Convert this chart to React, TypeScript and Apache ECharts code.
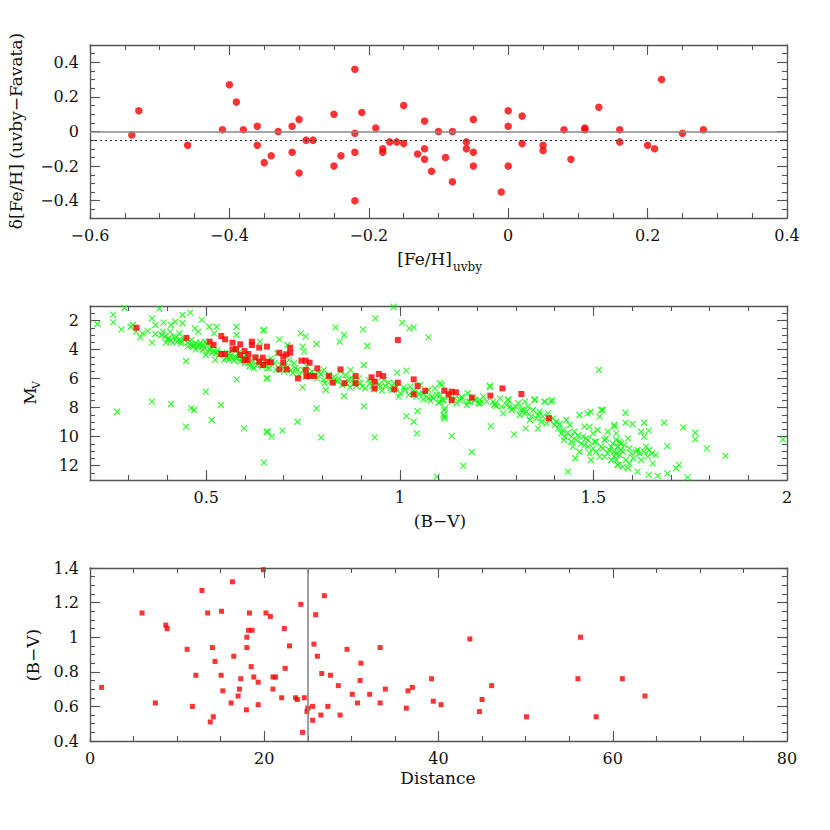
import React, { useEffect, useRef } from "react";
import * as echarts from "echarts";

// ---------- Panel 1: delta [Fe/H] vs [Fe/H]uvby ----------
const topFeH = [
  -0.54, -0.53, -0.46, -0.41, -0.40, -0.39, -0.38, -0.36, -0.36, -0.35,
  -0.34, -0.33, -0.31, -0.31, -0.30, -0.30, -0.29, -0.28, -0.25, -0.25,
  -0.24, -0.22, -0.22, -0.22, -0.22, -0.21, -0.19, -0.18, -0.18, -0.17,
  -0.16, -0.15, -0.15, -0.13, -0.12, -0.12, -0.12, -0.11, -0.10, -0.09,
  -0.08, -0.08, -0.06, -0.06, -0.05, -0.05, -0.05, -0.01, 0.0, 0.0,
  0.0, 0.02, 0.02, 0.05, 0.05, 0.08, 0.09, 0.11, 0.11, 0.13,
  0.16, 0.16, 0.20, 0.21, 0.22, 0.25, 0.28,
];
const topDelta = [
  -0.02, 0.12, -0.08, 0.01, 0.27, 0.17, 0.01, 0.03, -0.08, -0.18,
  -0.14, 0.0, 0.03, -0.12, 0.07, -0.24, -0.05, -0.05, 0.10, -0.20,
  -0.14, 0.36, -0.01, -0.12, -0.40, 0.11, 0.02, -0.10, -0.12, -0.06,
  -0.06, 0.15, -0.07, -0.13, 0.06, -0.10, -0.16, -0.23, 0.0, -0.15,
  0.0, -0.29, -0.06, -0.10, 0.07, -0.12, -0.20, -0.35, 0.12, 0.03,
  -0.20, 0.09, -0.07, -0.08, -0.11, 0.01, -0.16, 0.02, 0.01, 0.14,
  0.01, -0.06, -0.08, -0.10, 0.30, -0.01, 0.01,
];
const topZeroLine = 0;
const topMeanOffset = -0.05;

// ---------- Panel 2: HR diagram ----------
const redBV = [
  0.32, 0.449, 0.509, 0.519, 0.539, 0.549, 0.539, 0.549, 0.568, 0.577,
  0.568, 0.588, 0.588, 0.599, 0.609, 0.599, 0.607, 0.618, 0.618, 0.627,
  0.637, 0.646, 0.637, 0.647, 0.657, 0.667, 0.658, 0.689, 0.689, 0.699,
  0.699, 0.708, 0.707, 0.717, 0.717, 0.737, 0.746, 0.757, 0.767, 0.757,
  0.759, 0.767, 0.779, 0.787, 0.817, 0.827, 0.847, 0.857, 0.886, 0.886,
  0.927, 0.935, 0.935, 0.946, 0.957, 0.986, 0.995, 0.995, 1.036, 1.036,
  1.046, 1.066, 1.115, 1.126, 1.134, 1.145, 1.134, 1.186, 1.234, 1.265,
  1.314, 1.385,
];
const redMV = [
  2.5, 3.2, 3.46, 3.69, 3.07, 3.3, 4.31, 4.31, 3.53, 3.97,
  3.99, 3.64, 4.38, 4.1, 4.31, 4.72, 4.72, 3.46, 3.69, 4.54,
  3.87, 4.56, 4.84, 5.07, 3.8, 4.89, 4.84, 4.22, 5.37, 4.49,
  4.91, 5.37, 4.33, 3.87, 4.22, 5.99, 4.77, 4.77, 4.91, 5.41,
  5.83, 5.83, 5.83, 5.3, 5.83, 6.29, 5.37, 6.33, 5.83, 6.33,
  5.92, 6.22, 6.68, 5.69, 5.83, 6.75, 6.29, 3.34, 6.06, 7.09,
  6.52, 6.86, 6.84, 7.09, 6.91, 6.95, 7.48, 7.32, 7.18, 6.68,
  7.07, 8.74,
];
const greenStars: [number, number][] = [
  [0.219, 2.24], [0.26, 1.6], [0.26, 2.13], [0.289, 1.14], [0.281, 2.61], [0.305, 2.43], [0.311, 2.31],
  [0.319, 2.77], [0.33, 3.16], [0.336, 2.89], [0.349, 2.72], [0.36, 1.85], [0.36, 3.53], [0.369, 2.31],
  [0.369, 2.93], [0.379, 1.18], [0.388, 2.77], [0.39, 2.15], [0.394, 3.11], [0.401, 3.3], [0.407, 2.77],
  [0.409, 2.31], [0.413, 3.53], [0.42, 2.08], [0.422, 3.16], [0.431, 2.89], [0.435, 3.39], [0.439, 1.62],
  [0.439, 2.19], [0.448, 4.79], [0.459, 1.46], [0.452, 3.53], [0.462, 3.34], [0.467, 3.69], [0.471, 2.54],
  [0.473, 3.99], [0.48, 2.77], [0.482, 3.69], [0.489, 1.96], [0.491, 4.03], [0.497, 3.46], [0.499, 4.38],
  [0.499, 6.91], [0.508, 2.43], [0.51, 3.99], [0.514, 8.86], [0.516, 4.22], [0.521, 2.89], [0.523, 4.72],
  [0.527, 2.43], [0.529, 4.03], [0.538, 7.83], [0.546, 4.72], [0.555, 4.49], [0.562, 4.26], [0.568, 4.61],
  [0.578, 2.43], [0.578, 3.0], [0.579, 6.06], [0.581, 4.03], [0.585, 4.72], [0.598, 9.44], [0.602, 4.38],
  [0.611, 4.91], [0.619, 5.18], [0.628, 4.61], [0.639, 3.46], [0.641, 5.07], [0.647, 2.7], [0.649, 11.8],
  [0.656, 5.99], [0.656, 9.67], [0.36, 7.6], [0.27, 8.29], [0.409, 7.76], [0.461, 8.06], [0.469, 8.17],
  [0.448, 9.32],
  [0.461, 3.69], [0.467, 3.8], [0.473, 3.57], [0.478, 3.85], [0.485, 3.53], [0.491, 3.76], [0.495, 3.92],
  [0.502, 3.62], [0.505, 4.15], [0.512, 3.8], [0.519, 4.08], [0.525, 4.26], [0.533, 4.38], [0.542, 4.22],
  [0.551, 4.61], [0.559, 4.68], [0.563, 4.45], [0.572, 4.77], [0.576, 4.54], [0.582, 4.26], [0.589, 4.84],
  [0.593, 4.61], [0.599, 4.95], [0.606, 4.72], [0.613, 5.14], [0.619, 4.84], [0.623, 5.3], [0.632, 5.07],
  [0.636, 4.84], [0.645, 5.18], [0.653, 4.95], [0.658, 5.3], [0.402, 3.23], [0.409, 3.39], [0.416, 3.11],
  [0.425, 3.46], [0.431, 3.3], [0.385, 3.0], [0.396, 3.53], [0.435, 3.57], [0.443, 3.34], [0.452, 3.8],
  [0.65, 2.65], [0.659, 9.67], [0.669, 10.01], [0.659, 5.99], [0.667, 4.61], [0.676, 4.95], [0.684, 4.26],
  [0.689, 3.3], [0.697, 9.6], [0.703, 5.18], [0.71, 3.69], [0.714, 4.72], [0.719, 5.41], [0.727, 4.95],
  [0.736, 8.98], [0.736, 5.41], [0.744, 2.89], [0.749, 3.8], [0.753, 4.15], [0.757, 3.11], [0.749, 6.61],
  [0.761, 5.18], [0.774, 5.53], [0.785, 3.62], [0.785, 8.06], [0.791, 5.6], [0.797, 10.06], [0.804, 5.41],
  [0.806, 6.33], [0.809, 6.79], [0.817, 5.76], [0.83, 5.87], [0.834, 2.47], [0.839, 6.22], [0.845, 3.46],
  [0.847, 5.53], [0.856, 3.0], [0.856, 7.21], [0.86, 5.76], [0.864, 6.1], [0.873, 5.41], [0.875, 5.92],
  [0.881, 6.33], [0.894, 5.99], [0.903, 6.56], [0.905, 2.61], [0.907, 5.07], [0.907, 7.9], [0.916, 3.76],
  [0.92, 6.1], [0.929, 6.52], [0.935, 10.06], [0.937, 1.85], [0.941, 6.22], [0.95, 6.56], [0.959, 6.1],
  [0.971, 6.29], [0.976, 6.68], [0.984, 1.05], [0.986, 6.33], [0.993, 5.6], [0.997, 7.25], [1.006, 2.15],
  [1.01, 6.61], [1.017, 5.46], [1.017, 8.59], [1.025, 2.54], [1.027, 6.56], [1.036, 2.47], [1.036, 8.98],
  [1.04, 6.91], [1.044, 9.78], [1.046, 8.24], [1.053, 6.45], [1.061, 7.02], [1.074, 3.16], [1.074, 7.37],
  [1.083, 7.25], [1.096, 7.14], [1.096, 12.77], [1.104, 7.6], [1.113, 8.52],
  [0.654, 5.07], [0.663, 5.3], [0.671, 4.84], [0.68, 5.41], [0.693, 5.07], [0.701, 5.53], [0.71, 5.18],
  [0.723, 5.64], [0.731, 5.3], [0.74, 5.76], [0.751, 5.41], [0.757, 5.87], [0.768, 5.64], [0.779, 5.76],
  [0.787, 5.99], [0.796, 5.69], [0.803, 6.1], [0.813, 5.87], [0.821, 6.22], [0.832, 6.1], [0.843, 5.99],
  [0.851, 6.45], [0.863, 6.33], [0.871, 6.61], [0.88, 6.1], [0.888, 6.52], [0.899, 6.33], [0.911, 6.68],
  [0.923, 6.33], [0.933, 6.75], [0.946, 6.45], [0.954, 6.84], [0.963, 6.52], [0.98, 6.79], [0.991, 6.61],
  [1.001, 7.02], [1.014, 6.79], [1.023, 7.14], [1.034, 6.91], [1.043, 7.25], [1.051, 7.07], [1.06, 7.44],
  [1.07, 7.25], [1.079, 7.53], [1.087, 7.37], [1.1, 7.67], [1.109, 7.48],
  [1.104, 6.33], [1.104, 7.14], [1.113, 7.48], [1.115, 8.63], [1.117, 8.06], [1.134, 9.96], [1.143, 7.37],
  [1.156, 7.48], [1.164, 12.03], [1.175, 7.02], [1.181, 7.6], [1.186, 11.07], [1.194, 7.48], [1.203, 7.71],
  [1.216, 7.25], [1.233, 6.52], [1.235, 9.28], [1.241, 7.6], [1.25, 7.9], [1.259, 7.37], [1.267, 8.4],
  [1.28, 7.44], [1.284, 7.94], [1.293, 8.06], [1.295, 9.85], [1.306, 7.71], [1.314, 8.17], [1.323, 8.4],
  [1.325, 9.44], [1.331, 7.94], [1.34, 8.59], [1.349, 7.44], [1.353, 8.75], [1.357, 9.44], [1.361, 8.29],
  [1.37, 8.63], [1.374, 7.6], [1.379, 9.09], [1.391, 7.6], [1.396, 8.75], [1.404, 8.98], [1.413, 9.14],
  [1.421, 9.55], [1.426, 10.01], [1.43, 8.86], [1.434, 12.42], [1.439, 9.21], [1.443, 10.36], [1.451, 9.67],
  [1.453, 11.5], [1.46, 9.9], [1.464, 8.52], [1.469, 10.47], [1.477, 9.32], [1.481, 10.13], [1.486, 10.7],
  [1.493, 8.29], [1.494, 11.62], [1.499, 9.78], [1.503, 10.36], [1.507, 11.05], [1.511, 9.55], [1.514, 5.41],
  [1.516, 8.63], [1.52, 10.7], [1.524, 8.17], [1.529, 11.39], [1.533, 10.13], [1.537, 9.67], [1.541, 10.93],
  [1.546, 11.62], [1.55, 10.47], [1.554, 9.21], [1.559, 11.16], [1.563, 11.96],
  [1.126, 7.25], [1.134, 7.6], [1.147, 7.71], [1.16, 7.37], [1.173, 7.83], [1.19, 7.3], [1.207, 7.48],
  [1.224, 7.6], [1.246, 7.76], [1.263, 7.94], [1.276, 7.83], [1.289, 8.17], [1.301, 7.99], [1.31, 8.52],
  [1.319, 8.13], [1.327, 8.29], [1.336, 8.86], [1.344, 8.17], [1.357, 8.52], [1.366, 8.98], [1.383, 8.4],
  [1.387, 8.86], [1.4, 9.21], [1.409, 9.44], [1.417, 9.78], [1.424, 10.24], [1.434, 9.74], [1.443, 10.01],
  [1.447, 10.7], [1.456, 10.24], [1.464, 11.05], [1.473, 10.01], [1.477, 10.59], [1.486, 10.24], [1.49, 11.16],
  [1.499, 10.82], [1.507, 10.36], [1.516, 11.39], [1.524, 10.82], [1.529, 10.24], [1.537, 11.16], [1.546, 10.7],
  [1.554, 11.05], [1.563, 10.7],
  [1.554, 9.32], [1.559, 10.24], [1.563, 10.7], [1.554, 11.39], [1.563, 11.96], [1.571, 10.47], [1.576, 11.05],
  [1.583, 8.36], [1.583, 9.05], [1.584, 11.62], [1.589, 10.13], [1.593, 11.85], [1.589, 12.19], [1.601, 9.14],
  [1.603, 11.5], [1.614, 10.93], [1.614, 12.42], [1.623, 9.67], [1.623, 11.62], [1.631, 9.05], [1.631, 10.01],
  [1.636, 10.7], [1.64, 11.39], [1.643, 9.6], [1.643, 12.65], [1.653, 11.85], [1.661, 11.27], [1.666, 12.72],
  [1.683, 9.05], [1.691, 10.66], [1.691, 12.54], [1.713, 12.19], [1.721, 11.96], [1.732, 9.37], [1.743, 12.82],
  [1.763, 9.74], [1.763, 10.2], [1.793, 10.82], [1.841, 11.34], [1.989, 10.2],
  [1.559, 9.78], [1.567, 10.36], [1.571, 10.93], [1.58, 10.59], [1.567, 11.27], [1.593, 10.82], [1.597, 11.16],
  [1.61, 11.05], [1.619, 11.16], [1.631, 11.05], [1.644, 10.93], [1.651, 11.16], [1.559, 11.62], [1.576, 12.08],
  [1.074, 6.79], [1.091, 6.68], [1.108, 6.45], [1.115, 8.17], [1.115, 8.75], [1.16, 7.25], [1.177, 7.6],
  [1.194, 7.48], [1.207, 7.71], [1.233, 6.56], [1.245, 7.83], [1.28, 7.48], [1.323, 7.6], [1.348, 7.48],
  [1.374, 7.6], [1.393, 7.48], [1.485, 8.4], [1.49, 9.32], [1.52, 8.17],
];

// ---------- Panel 3: (B-V) vs Distance ----------
const distance = [
  1.33, 5.97, 7.5, 8.7, 8.85, 11.15, 11.75, 12.15, 12.85, 13.5,
  13.8, 14.05, 14.15, 14.35, 15.05, 15.1, 15.25, 16.2, 16.35, 16.5,
  17.0, 17.15, 17.3, 17.95, 18.0, 18.0, 18.2, 18.3, 18.6, 18.5,
  18.8, 19.3, 19.3, 19.9, 20.2, 20.7, 21.0, 21.0, 21.3, 22.0,
  22.3, 22.4, 22.9, 23.6, 23.8, 24.2, 24.4, 24.6, 24.9, 25.0,
  25.55, 25.55, 25.7, 25.9, 26.1, 26.5, 26.6, 26.9, 27.3, 27.6,
  28.5, 28.7, 29.5, 30.1, 30.7, 31.0, 31.1, 32.1, 33.3, 33.3,
  33.9, 36.3, 36.5, 37.0, 39.2, 39.4, 40.3, 43.6, 44.7, 45.0,
  46.1, 50.1, 56.0, 56.3, 58.1, 61.1, 63.7,
];
const colourBV = [
  0.71, 1.14, 0.62, 1.07, 1.05, 0.93, 0.60, 0.78, 1.27, 1.14,
  0.51, 0.94, 0.54, 0.86, 0.78, 1.15, 0.69, 0.62, 1.32, 0.89,
  0.66, 0.70, 0.76, 0.58, 0.94, 1.00, 1.04, 1.14, 1.04, 0.83,
  0.77, 0.74, 0.61, 1.39, 1.14, 1.12, 0.77, 0.70, 0.77, 0.65,
  1.05, 0.82, 0.95, 0.65, 0.64, 1.19, 0.45, 0.65, 0.57, 0.59,
  0.60, 0.52, 0.96, 1.13, 0.89, 0.55, 0.79, 1.24, 0.60, 0.78,
  0.72, 0.55, 0.93, 0.67, 0.62, 0.75, 0.85, 0.67, 0.94, 0.62,
  0.70, 0.59, 0.69, 0.71, 0.76, 0.63, 0.61, 0.99, 0.57, 0.64,
  0.72, 0.54, 0.76, 1.00, 0.54, 0.76, 0.66,
];
const distanceCut = 25;

// ---------- ticks ----------
const topXTicks = [-0.6, -0.4, -0.2, 0, 0.2, 0.4];
const topYTicks = [-0.4, -0.2, 0, 0.2, 0.4];
const midXTicks = [0.5, 1, 1.5, 2];
const midYTicks = [2, 4, 6, 8, 10, 12];
const botXTicks = [0, 20, 40, 60, 80];
const botYTicks = [0.4, 0.6, 0.8, 1, 1.2, 1.4];

const FONT = '"DejaVu Serif", "Liberation Serif", serif';
const AX = "#555";

const fmt = (v: number) => String(Math.round(v * 1000) / 1000).replace("-", "\u2212");

function steps(min: number, max: number, step: number) {
  const out: number[] = [];
  const n = Math.round((max - min) / step);
  for (let i = 0; i <= n; i++) out.push(Math.round((min + i * step) * 10000) / 10000);
  return out;
}

function frame(dim: "x" | "y", grid: number, min: number, max: number, majors: number[], inverse = false) {
  const [mainPos, oppPos] = dim === "x" ? ["bottom", "top"] : ["left", "right"];
  const base = { type: "value", gridIndex: grid, min, max, inverse, splitLine: { show: false } };
  return [
    {
      ...base, position: mainPos,
      axisLine: { show: true, onZero: false, lineStyle: { color: AX, width: 1.3 } },
      axisTick: { show: false },
      axisLabel: {
        show: true, customValues: majors, formatter: fmt, margin: dim === "x" ? 9 : 11,
        fontFamily: FONT, fontSize: 16, color: "#111",
      },
    },
    {
      ...base, position: oppPos,
      axisLine: { show: true, onZero: false, lineStyle: { color: AX, width: 1.3 } },
      axisTick: { show: false },
      axisLabel: { show: false },
    },
  ];
}

const gridL = 90;
const gridW = 697;
const gridH = [173, 174, 173];

// Inward tick marks on all four sides, as marker-line segments in data coordinates
function tickMarks(
  axisIndex: number, hPx: number, xLeft: number, xRight: number, yBottom: number, yTop: number,
  xMajor: number[], xMinor: number[], yMajor: number[], yMinor: number[],
) {
  const xu = (xRight - xLeft) / gridW;
  const yu = (yTop - yBottom) / hPx;
  const lines: any[] = [];
  const addX = (v: number, len: number) => {
    lines.push([{ coord: [v, yBottom] }, { coord: [v, yBottom + len * yu] }]);
    lines.push([{ coord: [v, yTop] }, { coord: [v, yTop - len * yu] }]);
  };
  const addY = (v: number, len: number) => {
    lines.push([{ coord: [xLeft, v] }, { coord: [xLeft + len * xu, v] }]);
    lines.push([{ coord: [xRight, v] }, { coord: [xRight - len * xu, v] }]);
  };
  xMinor.forEach((v) => addX(v, 5));
  yMinor.forEach((v) => addY(v, 5));
  xMajor.forEach((v) => addX(v, 10));
  yMajor.forEach((v) => addY(v, 10));
  return {
    type: "scatter", xAxisIndex: axisIndex, yAxisIndex: axisIndex,
    data: [],
    markLine: {
      silent: true, symbol: "none", label: { show: false },
      lineStyle: { color: AX, width: 1.1, type: "solid" },
      emphasis: { disabled: true },
      data: lines,
    },
  };
}

function buildOption() {
  const xAxis = [
    ...frame("x", 0, -0.6, 0.4, topXTicks),
    ...frame("x", 1, 0.2, 2.0, midXTicks),
    ...frame("x", 2, 0, 80, botXTicks),
  ];
  const yAxis = [
    ...frame("y", 0, -0.5, 0.5, topYTicks),
    ...frame("y", 1, 1, 13, midYTicks, true),
    ...frame("y", 2, 0.4, 1.4, botYTicks),
  ];
  const titleStyle = (text: string, size = 18) => ({
    text, fontFamily: FONT, fontSize: size, fill: "#111", align: "center", verticalAlign: "middle",
  });
  return {
    animation: false,
    grid: [
      { left: gridL, top: 45, width: gridW, height: gridH[0] },
      { left: gridL, top: 306, width: gridW, height: gridH[1] },
      { left: gridL, top: 568, width: gridW, height: gridH[2] },
    ],
    xAxis,
    yAxis,
    series: [
      tickMarks(0, gridH[0], -0.6, 0.4, -0.5, 0.5, topXTicks, steps(-0.6, 0.4, 0.05), topYTicks, steps(-0.5, 0.5, 0.05)),
      tickMarks(2, gridH[1], 0.2, 2.0, 13, 1, midXTicks, steps(0.2, 2.0, 0.1), midYTicks, steps(1, 13, 0.5)),
      tickMarks(4, gridH[2], 0, 80, 0.4, 1.4, botXTicks, steps(0, 80, 5), botYTicks, steps(0.4, 1.4, 0.05)),
      {
        type: "scatter", xAxisIndex: 0, yAxisIndex: 0,
        symbol: "circle", symbolSize: 7.5,
        itemStyle: { color: "#ff0000" },
        data: topFeH.map((x, i) => [x, topDelta[i]]),
        markLine: {
          silent: true, symbol: "none", label: { show: false },
          data: [
            { yAxis: topZeroLine, lineStyle: { color: "#888", width: 1.6, type: "solid" } },
            { yAxis: topMeanOffset, lineStyle: { color: "#222", width: 1, type: [2, 3] } },
          ],
        },
      },
      {
        type: "scatter", xAxisIndex: 2, yAxisIndex: 2,
        symbol: "path://M0,0L10,10M10,0L0,10", symbolSize: 6,
        itemStyle: { color: "rgba(0,0,0,0)", borderColor: "#00ff00", borderWidth: 1.2 },
        data: greenStars,
      },
      {
        type: "scatter", xAxisIndex: 2, yAxisIndex: 2,
        symbol: "rect", symbolSize: 6,
        itemStyle: { color: "#ff0000" },
        data: redBV.map((x, i) => [x, redMV[i]]),
      },
      {
        type: "scatter", xAxisIndex: 4, yAxisIndex: 4,
        symbol: "rect", symbolSize: 5,
        itemStyle: { color: "#ff0000" },
        data: distance.map((x, i) => [x, colourBV[i]]),
        markLine: {
          silent: true, symbol: "none", label: { show: false },
          data: [{ xAxis: distanceCut, lineStyle: { color: "#888", width: 1.6, type: "solid" } }],
        },
      },
    ],
    graphic: [
      { type: "text", x: 16, y: 131, rotation: Math.PI / 2, style: titleStyle("\u03b4[Fe/H] (uvby\u2212Favata)", 17) },
      { type: "text", x: 452, y: 259, style: { ...titleStyle("[Fe/H]", 17), align: "right" } },
      { type: "text", x: 453, y: 267, style: { ...titleStyle("uvby", 12), align: "left" } },
      { type: "text", x: 30, y: 396, rotation: Math.PI / 2, style: titleStyle("M", 17) },
      { type: "text", x: 36, y: 385, rotation: Math.PI / 2, style: titleStyle("V", 11) },
      { type: "text", x: 440, y: 521, style: titleStyle("(B\u2212V)", 17) },
      { type: "text", x: 33, y: 655, rotation: Math.PI / 2, style: titleStyle("(B\u2212V)", 17) },
      { type: "text", x: 438, y: 778, style: titleStyle("Distance", 17) },
    ],
  };
}

export default function App() {
  const ref = useRef<HTMLDivElement>(null);
  useEffect(() => {
    if (!ref.current) return;
    const chart = echarts.init(ref.current, null, { renderer: "svg" });
    chart.setOption(buildOption() as any);
    return () => chart.dispose();
  }, []);
  return (
    <div
      ref={ref}
      style={{ position: "fixed", left: 0, top: 0, width: 830, height: 830, background: "#fff" }}
    />
  );
}
